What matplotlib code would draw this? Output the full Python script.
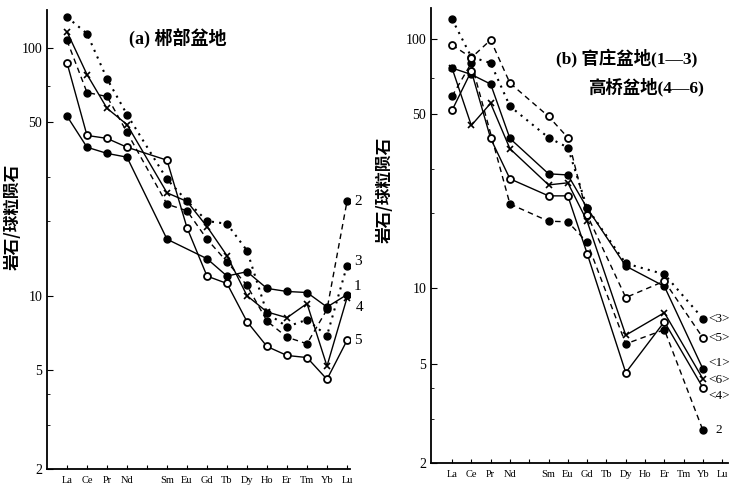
import numpy as np
import matplotlib
matplotlib.use("Agg")
import matplotlib.pyplot as plt
from matplotlib.ticker import FixedLocator, NullFormatter

plt.rcParams['font.family'] = ['Liberation Serif', 'Noto Sans CJK SC', 'DejaVu Sans']

# ---------------- data ----------------
elements = ["La", "Ce", "Pr", "Nd", "", "Sm", "Eu", "Gd", "Tb", "Dy", "Ho", "Er", "Tm", "Yb", "Lu"]

# panel (a): La Ce Pr Nd Sm Eu Gd Tb Dy Ho Er Tm Yb Lu
a_elems = ["La", "Ce", "Pr", "Nd", "Sm", "Eu", "Gd", "Tb", "Dy", "Ho", "Er", "Tm", "Yb", "Lu"]
a1 = [53, 39.7, 37.5, 36.2, 16.9, np.nan, 14.1, 12.0, 12.5, 10.7, 10.4, 10.3, 9.0, 10.1]
a2 = [107, 66, 63.6, 45.6, 23.4, 22.0, 16.9, 13.7, 11.0, 7.9, 6.8, 6.4, 8.8, 24]
a3 = [133, 114, 75, 53.8, 29.5, 24.1, 20.0, 19.5, 15.2, 8.5, 7.5, 8.0, 6.9, 13.2]
a4 = [116, 78, 57, 49, 26, 24, 19, 14.5, 10, 8.6, 8.15, 9.3, 5.2, 9.8]
a5 = [87, 44.3, 43.1, 39.7, 35.2, 18.8, 12.0, 11.2, 7.86, 6.24, 5.74, 5.63, 4.6, 6.6]
a_names = ["1", "2", "3", "4", "5"]

# panel (b): La Ce Pr Nd Sm Eu Gd Dy Er Yb
b_elems = ["La", "Ce", "Pr", "Nd", "Sm", "Eu", "Gd", "Dy", "Er", "Yb"]
b1 = [76.4, 72, 65.9, 39.9, 28.8, 28.5, 21.0, 12.3, 10.2, 4.76]
b2 = [58.9, 80, np.nan, 21.8, 18.6, 18.5, 15.3, 6.0, 6.84, 2.7]
b3 = [120, 84.6, 80, 53.7, 40.2, 36.7, 21.0, 12.6, 11.4, 7.57]
b4 = [51.7, 74.3, 39.9, 27.5, 23.5, 23.5, 13.8, 4.6, 7.36, 4.0]
b5 = [94.6, 84, 99, 66.5, 48.9, 40.2, 19.7, 9.2, 10.7, 6.34]
b6 = [76.4, 45, 55.2, 36.3, 26, 26.5, 18.6, 6.5, 8.0, 4.34]
b_names = ["<1>", "2", "<3>", "<4>", "<5>", "<6>"]

yticks = [2, 5, 10, 50, 100]
minor_ticks = [3, 4, 20, 30, 70]

# ---------------- styles ----------------
FILLED = dict(marker='o', mfc='black', mec='black', ms=5)
OPEN = dict(marker='o', mfc='white', mec='black', ms=5, mew=1.3)
XMK = dict(marker='x', mfc='black', mec='black', ms=5, mew=1.2)

a_styles = [
    dict(ls='-', **FILLED),
    dict(ls=(0, (4, 3)), **FILLED),
    dict(ls=(0, (1, 2.5)), lw=1.5, **FILLED),
    dict(ls='-', **XMK),
    dict(ls='-', **OPEN),
]
b_styles = [
    dict(ls='-', **FILLED),
    dict(ls=(0, (4, 3)), **FILLED),
    dict(ls=(0, (1, 2.5)), lw=1.5, **FILLED),
    dict(ls='-', **OPEN),
    dict(ls=(0, (4, 3)), **OPEN),
    dict(ls='-', **XMK),
]

fig = plt.figure(figsize=(7.39, 4.93), dpi=100)
axA = fig.add_axes([0.0636, 0.0487, 0.410, 0.931])
axB = fig.add_axes([0.5832, 0.0609, 0.402, 0.923])

label_font = dict(family=['Liberation Serif', 'Noto Sans CJK SC'])


def plot_series(ax, elems, series, styles):
    xs = np.array([elements.index(e) for e in elems], dtype=float)
    out = []
    for vals, st in zip(series, styles):
        v = np.array(vals, dtype=float)
        m = ~np.isnan(v)
        st = dict(st)
        lw = st.pop('lw', 1.0)
        ax.plot(xs[m], v[m], color='black', lw=lw, **st)
        out.append((xs[m][-1], v[m][-1]))
    return out


def style_axes(ax, xlim, ylim):
    ax.set_yscale('log')
    ax.set_xlim(*xlim)
    ax.set_ylim(*ylim)
    for s in ['top', 'right']:
        ax.spines[s].set_visible(False)
    ax.spines['left'].set_linewidth(1.3)
    ax.spines['bottom'].set_linewidth(1.3)
    ax.yaxis.set_major_locator(FixedLocator(yticks))
    ax.yaxis.set_minor_locator(FixedLocator(minor_ticks))
    ax.yaxis.set_minor_formatter(NullFormatter())
    ax.set_yticklabels([str(t) for t in yticks])
    ax.set_xticks(range(len(elements)))
    ax.set_xticklabels(elements, fontsize=7.5)
    ax.tick_params(axis='y', which='major', direction='in', length=4, labelsize=10)
    ax.tick_params(axis='y', which='minor', direction='in', length=2.5)
    ax.tick_params(axis='x', direction='in', length=3, pad=5)
    ax.set_ylabel("岩石/球粒陨石", fontsize=12, family=['Noto Sans CJK SC'],
                  fontweight='bold')


# ---- panel a ----
endsA = plot_series(axA, a_elems, [a1, a2, a3, a4, a5], a_styles)
style_axes(axA, (-1.0, 14.15), (2, 142))
axA.yaxis.set_label_coords(-0.085, 0.55)
offsA = [(5, 6), (5, 0), (5, 3), (6, -7), (5, 0)]
for (x, y), name, off in zip(endsA, a_names, offsA):
    axA.annotate(name, (x, y), xytext=off, textcoords='offset points',
                 fontsize=11, va='center', ha='left', **label_font)
axA.text(0.27, 0.94, "(a) 郴部盆地", transform=axA.transAxes, fontsize=13,
         fontweight='bold', ha='left', va='center', **label_font)

# ---- panel b ----
endsB = plot_series(axB, b_elems, [b1, b2, b3, b4, b5, b6], b_styles)
style_axes(axB, (-1.09, 14.3), (2, 133))
axB.yaxis.set_label_coords(-0.125, 0.6)
offsB = [(4, 4), (9, 0), (4, 0), (4, -6), (4, 0), (4, -1)]
for (x, y), name, off in zip(endsB, b_names, offsB):
    axB.annotate(name, (x, y), xytext=off, textcoords='offset points',
                 fontsize=9.5, va='center', ha='left', **label_font)
axB.text(0.42, 0.89, "(b) 官庄盆地(1—3)", transform=axB.transAxes, fontsize=12.5,
         fontweight='bold', ha='left', va='center', **label_font)
axB.text(0.53, 0.825, "高桥盆地(4—6)", transform=axB.transAxes, fontsize=12.5,
         fontweight='bold', ha='left', va='center', **label_font)

fig.savefig("out.png", dpi=100)
